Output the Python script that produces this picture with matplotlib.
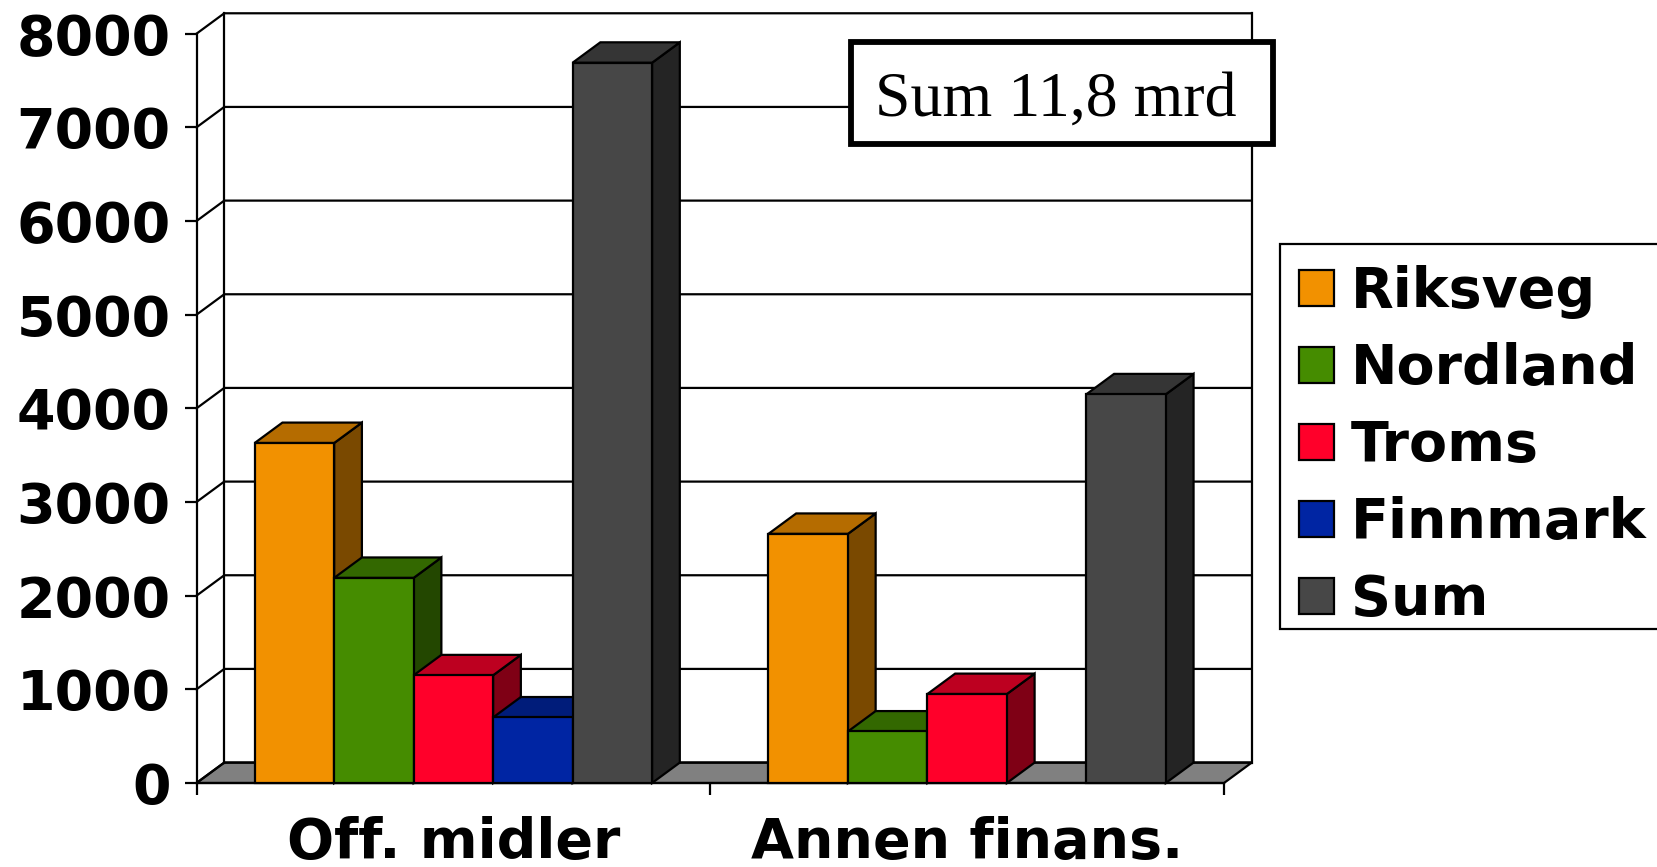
import matplotlib
matplotlib.use("Agg")
import matplotlib.pyplot as plt
from matplotlib.patches import Patch, Polygon, Rectangle

categories = ["Off. midler", "Annen finans."]
series_names = ["Riksveg", "Nordland", "Troms", "Finnmark", "Sum"]
riksveg = [3630, 2660]
nordland = [2190, 550]
troms = [1150, 950]
finnmark = [700, 0]
total = [7690, 4150]
y_ticks = [0, 1000, 2000, 3000, 4000, 5000, 6000, 7000, 8000]

front_colors = ["#f29100", "#458c00", "#ff002a", "#0025a3", "#474747"]
top_colors = ["#b56c00", "#336800", "#bd0020", "#001c7a", "#353535"]
side_colors = ["#7a4900", "#234700", "#7f0015", "#001252", "#242424"]

W, H = 1657, 867
FONT = 40
LW = 1.6

# depth of the fake 3d box and bar width, in data units
DX = 0.054
DY = 218
BAR = 0.1547

plt.rcParams["font.family"] = "DejaVu Sans"
plt.rcParams["font.weight"] = "bold"

fig = plt.figure(figsize=(W / 100, H / 100), dpi=100)
ax = fig.add_axes([196.5 / W, (H - 783) / H, 1027.5 / W, 749.3 / H])
ax.set_xlim(0, len(categories))
ax.set_ylim(0, y_ticks[-1])
ax.patch.set_visible(False)
ax.spines[["right", "top"]].set_visible(False)
ax.spines[["left", "bottom"]].set_linewidth(LW)

x_end = len(categories)
ax.add_patch(Polygon([(0, 0), (DX, DY), (x_end + DX, DY), (x_end, 0)], closed=True,
                     facecolor="#808080", edgecolor="black", lw=LW, clip_on=False, zorder=1))
for v in y_ticks:
    ax.plot([0, DX, x_end + DX], [v, v + DY, v + DY], color="black", lw=LW,
            clip_on=False, zorder=1, solid_joinstyle="miter")
ax.plot([DX, DX], [DY, y_ticks[-1] + DY], color="black", lw=LW, clip_on=False, zorder=1)
ax.plot([x_end + DX, x_end + DX], [DY, y_ticks[-1] + DY], color="black", lw=LW, clip_on=False, zorder=1)

all_values = [riksveg, nordland, troms, finnmark, total]
for i, values in enumerate(all_values):
    for j, v in enumerate(values):
        if v == 0:
            continue
        x0 = j + 0.5 + (i - 2.5) * BAR
        x1 = x0 + BAR
        z = 3 + i
        ax.add_patch(Polygon([(x1, 0), (x1 + DX, DY), (x1 + DX, v + DY), (x1, v)], closed=True,
                             facecolor=side_colors[i], edgecolor="black", lw=LW, clip_on=False, zorder=z))
        ax.add_patch(Polygon([(x0, v), (x0 + DX, v + DY), (x1 + DX, v + DY), (x1, v)], closed=True,
                             facecolor=top_colors[i], edgecolor="black", lw=LW, clip_on=False, zorder=z))
        ax.add_patch(Rectangle((x0, 0), BAR, v, facecolor=front_colors[i], edgecolor="black",
                               lw=LW, clip_on=False, zorder=z))

ax.set_yticks(y_ticks)
ax.set_yticklabels([str(v) for v in y_ticks], fontsize=FONT, fontweight="bold")
ax.tick_params(axis="y", length=8.6, width=LW, pad=10)
ax.set_xticks(range(len(categories) + 1))
ax.set_xticklabels([])
ax.tick_params(axis="x", which="major", length=8.6, width=LW)
ax.set_xticks([j + 0.5 for j in range(len(categories))], minor=True)
ax.set_xticklabels(categories, minor=True, fontsize=FONT, fontweight="bold")
ax.tick_params(axis="x", which="minor", length=0, pad=23.5)

# note box
fig.add_artist(Rectangle((851 / W, (H - 144) / H), 422 / W, 102 / H, transform=fig.transFigure,
                         facecolor="white", edgecolor="black", lw=4.2, zorder=5))
fig.text(1056 / W, (H - 101) / H, "Sum 11,8 mrd", family="Liberation Serif", fontweight="normal",
         fontsize=46, ha="center", va="center", zorder=6)

# legend frame drawn apart, its bottom padding is smaller than legend() gives
fig.add_artist(Rectangle((1280 / W, (H - 629) / H), 400 / W, 385 / H, transform=fig.transFigure,
                         facecolor="white", edgecolor="black", lw=LW, zorder=5))
handles = [Patch(facecolor=c, edgecolor="black", lw=LW) for c in front_colors]
leg = fig.legend(handles, series_names, loc="upper left", bbox_to_anchor=(1277 / W, (H - 243) / H),
                 borderaxespad=0, fontsize=FONT, frameon=False, borderpad=0.4,
                 handlelength=0.63, handleheight=0.63, handletextpad=0.3, labelspacing=0.415)
leg.set_zorder(6)

fig.savefig("out.png", dpi=100)
